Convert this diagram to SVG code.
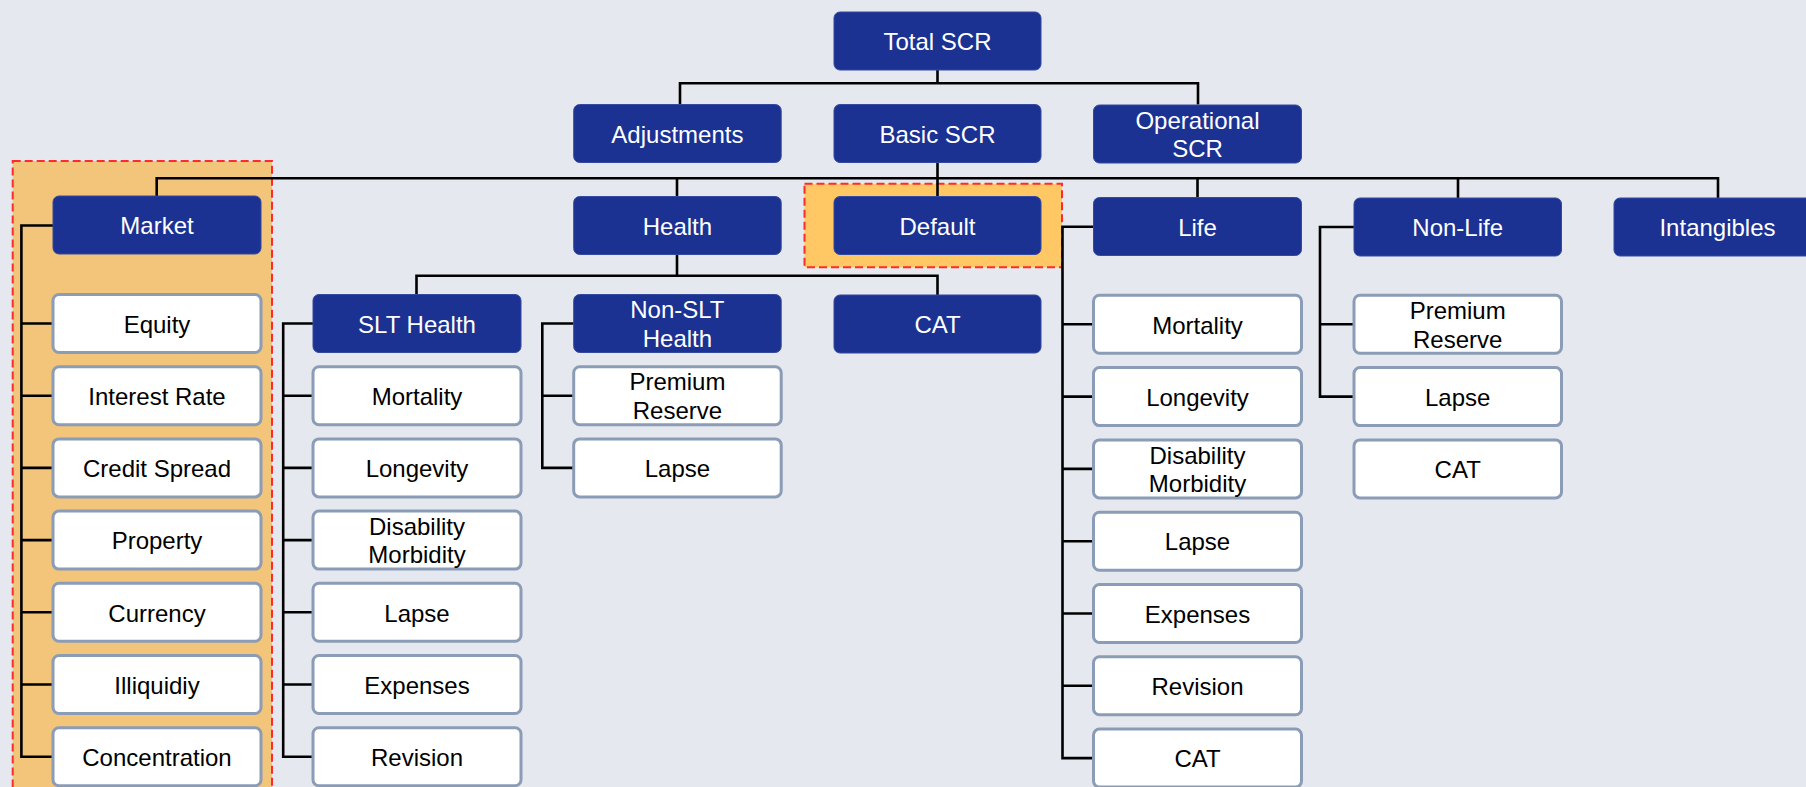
<svg xmlns="http://www.w3.org/2000/svg" width="1806" height="787" viewBox="0 0 1806 787">
  <style>
    .bg { fill: #E5E8EE; }
    .hl-market { fill: #F2C57A; stroke: #FF2A2A; stroke-width: 2; stroke-dasharray: 8 4; }
    .hl-default { fill: #FFC864; stroke: #FF2A2A; stroke-width: 2; stroke-dasharray: 8 4; }
    .wire { fill: none; stroke: #000; stroke-width: 2.6; stroke-linejoin: miter; }
    .blue rect { fill: #1B3293; stroke: #3449A0; stroke-width: 1; }
    .white rect { fill: #FFFFFF; stroke: #8A9CB6; stroke-width: 3; }
    text { font-family: "Liberation Sans", Arial, sans-serif; font-size: 24px; text-anchor: middle; }
    .blue text { fill: #FFFFFF; }
    .white text { fill: #000000; }
  </style>

  <rect class="bg" x="0" y="0" width="1806" height="787"/>

  <!-- highlighted areas -->
  <g id="highlights">
    <rect class="hl-market" x="12.7" y="161" width="259.3" height="660"/>
    <rect class="hl-default" x="804.5" y="183.8" width="257.5" height="83.5"/>
  </g>

  <!-- connectors -->
  <g id="connectors" class="wire">
    <!-- Total SCR level -->
    <path d="M937.5 70 V83.3 M680 104.5 V83.3 H1198 V104.5"/>
    <!-- Basic SCR level -->
    <path d="M937.5 162.5 V178.3 M156.7 196 V178.3 H1718 V198 M677 178.3 V196.5 M937.5 178.3 V196.5 M1197.5 178.3 V197.5 M1458 178.3 V198"/>
    <!-- Health level -->
    <path d="M677 254.5 V275.7 M416.5 294.5 V275.7 H937.5 V295"/>
    <!-- Market children -->
    <path d="M53 225.5 H21.4 V756.7 H53 M21.4 323.5 H53 M21.4 395.7 H53 M21.4 467.9 H53 M21.4 540.1 H53 M21.4 612.3 H53 M21.4 684.5 H53"/>
    <!-- SLT Health children -->
    <path d="M313 323.5 H283.2 V756.7 H313 M283.2 395.7 H313 M283.2 467.9 H313 M283.2 540.1 H313 M283.2 612.3 H313 M283.2 684.5 H313"/>
    <!-- Non-SLT Health children -->
    <path d="M573.7 323.5 H542.3 V467.9 H573.7 M542.3 395.7 H573.7"/>
    <!-- Life children -->
    <path d="M1093.5 226.7 H1062.5 V758.1 H1093.5 M1062.5 324.3 H1093.5 M1062.5 396.6 H1093.5 M1062.5 468.9 H1093.5 M1062.5 541.2 H1093.5 M1062.5 613.5 H1093.5 M1062.5 685.8 H1093.5"/>
    <!-- Non-Life children -->
    <path d="M1354 227 H1320 V396.6 H1354 M1320 324.3 H1354"/>
  </g>

  <!-- top levels -->
  <g id="total-scr" class="blue" transform="translate(834 12)"><rect width="207" height="58" rx="6"/><text x="103.5" y="38.3">Total SCR</text></g>
  <g id="adjustments" class="blue" transform="translate(573.7 104.5)"><rect width="207.5" height="58" rx="6"/><text x="103.7" y="38.3">Adjustments</text></g>
  <g id="basic-scr" class="blue" transform="translate(834 104.5)"><rect width="207" height="58" rx="6"/><text x="103.5" y="38.3">Basic SCR</text></g>
  <g id="operational-scr" class="blue" transform="translate(1093.5 105)"><rect width="208" height="58" rx="6"/><text x="104" y="23.8">Operational</text><text x="104" y="52.4">SCR</text></g>

  <!-- risk modules -->
  <g id="market" class="blue" transform="translate(53 196)"><rect width="208" height="58" rx="6"/><text x="104" y="38.3">Market</text></g>
  <g id="health" class="blue" transform="translate(573.7 196.5)"><rect width="207.5" height="58" rx="6"/><text x="103.7" y="38.3">Health</text></g>
  <g id="default" class="blue" transform="translate(834 196.5)"><rect width="207" height="58" rx="6"/><text x="103.5" y="38.3">Default</text></g>
  <g id="life" class="blue" transform="translate(1093.5 197.5)"><rect width="208" height="58" rx="6"/><text x="104" y="38.3">Life</text></g>
  <g id="non-life" class="blue" transform="translate(1354 198)"><rect width="207.5" height="58" rx="6"/><text x="103.7" y="38.3">Non-Life</text></g>
  <g id="intangibles" class="blue" transform="translate(1614 198)"><rect width="207" height="58" rx="6"/><text x="103.5" y="38.3">Intangibles</text></g>

  <!-- market sub-modules -->
  <g id="m-equity" class="white" transform="translate(53 294.5)"><rect width="208" height="58" rx="6"/><text x="104" y="38.3">Equity</text></g>
  <g id="m-interest" class="white" transform="translate(53 366.7)"><rect width="208" height="58" rx="6"/><text x="104" y="38.3">Interest Rate</text></g>
  <g id="m-spread" class="white" transform="translate(53 438.9)"><rect width="208" height="58" rx="6"/><text x="104" y="38.3">Credit Spread</text></g>
  <g id="m-property" class="white" transform="translate(53 511.1)"><rect width="208" height="58" rx="6"/><text x="104" y="38.3">Property</text></g>
  <g id="m-currency" class="white" transform="translate(53 583.3)"><rect width="208" height="58" rx="6"/><text x="104" y="38.3">Currency</text></g>
  <g id="m-illiquidity" class="white" transform="translate(53 655.5)"><rect width="208" height="58" rx="6"/><text x="104" y="38.3">Illiquidiy</text></g>
  <g id="m-concentration" class="white" transform="translate(53 727.7)"><rect width="208" height="58" rx="6"/><text x="104" y="38.3">Concentration</text></g>

  <!-- health sub-modules -->
  <g id="slt-health" class="blue" transform="translate(313 294.5)"><rect width="208" height="58" rx="6"/><text x="104" y="38.3">SLT Health</text></g>
  <g id="slt-mortality" class="white" transform="translate(313 366.7)"><rect width="208" height="58" rx="6"/><text x="104" y="38.3">Mortality</text></g>
  <g id="slt-longevity" class="white" transform="translate(313 438.9)"><rect width="208" height="58" rx="6"/><text x="104" y="38.3">Longevity</text></g>
  <g id="slt-disability" class="white" transform="translate(313 511.1)"><rect width="208" height="58" rx="6"/><text x="104" y="23.8">Disability</text><text x="104" y="52.4">Morbidity</text></g>
  <g id="slt-lapse" class="white" transform="translate(313 583.3)"><rect width="208" height="58" rx="6"/><text x="104" y="38.3">Lapse</text></g>
  <g id="slt-expenses" class="white" transform="translate(313 655.5)"><rect width="208" height="58" rx="6"/><text x="104" y="38.3">Expenses</text></g>
  <g id="slt-revision" class="white" transform="translate(313 727.7)"><rect width="208" height="58" rx="6"/><text x="104" y="38.3">Revision</text></g>

  <g id="non-slt-health" class="blue" transform="translate(573.7 294.5)"><rect width="207.5" height="58" rx="6"/><text x="103.7" y="23.8">Non-SLT</text><text x="103.7" y="52.4">Health</text></g>
  <g id="nslt-premium" class="white" transform="translate(573.7 366.7)"><rect width="207.5" height="58" rx="6"/><text x="103.7" y="23.8">Premium</text><text x="103.7" y="52.4">Reserve</text></g>
  <g id="nslt-lapse" class="white" transform="translate(573.7 438.9)"><rect width="207.5" height="58" rx="6"/><text x="103.7" y="38.3">Lapse</text></g>

  <g id="health-cat" class="blue" transform="translate(834 295)"><rect width="207" height="58" rx="6"/><text x="103.5" y="38.3">CAT</text></g>

  <!-- life sub-modules -->
  <g id="life-mortality" class="white" transform="translate(1093.5 295.3)"><rect width="208" height="58" rx="6"/><text x="104" y="38.3">Mortality</text></g>
  <g id="life-longevity" class="white" transform="translate(1093.5 367.6)"><rect width="208" height="58" rx="6"/><text x="104" y="38.3">Longevity</text></g>
  <g id="life-disability" class="white" transform="translate(1093.5 439.9)"><rect width="208" height="58" rx="6"/><text x="104" y="23.8">Disability</text><text x="104" y="52.4">Morbidity</text></g>
  <g id="life-lapse" class="white" transform="translate(1093.5 512.2)"><rect width="208" height="58" rx="6"/><text x="104" y="38.3">Lapse</text></g>
  <g id="life-expenses" class="white" transform="translate(1093.5 584.5)"><rect width="208" height="58" rx="6"/><text x="104" y="38.3">Expenses</text></g>
  <g id="life-revision" class="white" transform="translate(1093.5 656.8)"><rect width="208" height="58" rx="6"/><text x="104" y="38.3">Revision</text></g>
  <g id="life-cat" class="white" transform="translate(1093.5 729.1)"><rect width="208" height="58" rx="6"/><text x="104" y="38.3">CAT</text></g>

  <!-- non-life sub-modules -->
  <g id="nl-premium" class="white" transform="translate(1354 295.3)"><rect width="207.5" height="58" rx="6"/><text x="103.7" y="23.8">Premium</text><text x="103.7" y="52.4">Reserve</text></g>
  <g id="nl-lapse" class="white" transform="translate(1354 367.6)"><rect width="207.5" height="58" rx="6"/><text x="103.7" y="38.3">Lapse</text></g>
  <g id="nl-cat" class="white" transform="translate(1354 439.9)"><rect width="207.5" height="58" rx="6"/><text x="103.7" y="38.3">CAT</text></g>
</svg>
